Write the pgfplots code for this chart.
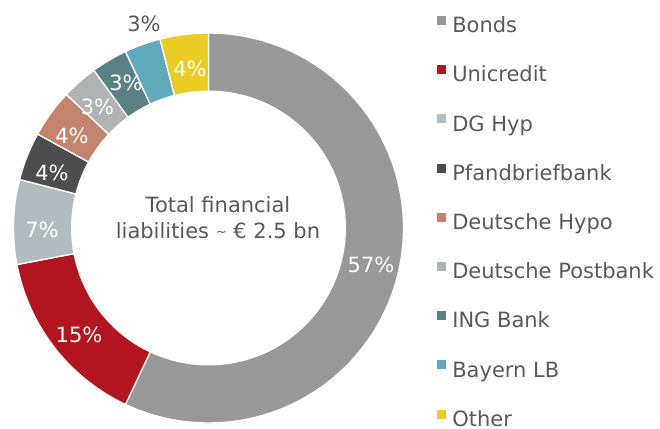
\documentclass[border=0pt]{standalone}
\usepackage{fontspec}
\setmainfont{DejaVu Sans}
\usepackage{pgfplots}
\usepackage{pgfplotstable}
\pgfplotsset{compat=1.18}

\definecolor{cBonds}{HTML}{989898}
\definecolor{cUni}{HTML}{B3151E}
\definecolor{cDG}{HTML}{B2BCC0}
\definecolor{cPfb}{HTML}{4D4D4D}
\definecolor{cDH}{HTML}{C4836C}
\definecolor{cPB}{HTML}{B0B3B4}
\definecolor{cING}{HTML}{5A8184}
\definecolor{cBay}{HTML}{60A9BD}
\definecolor{cOth}{HTML}{EBCC25}
\definecolor{txt}{HTML}{595959}

% share (%), colour, label position (x, y in chart units), label colour
\pgfplotstableread[col sep=comma]{
label,value,color,lx,ly,lc
Bonds,57,cBonds,371,162.7,white
Unicredit,15,cUni,79,93,white
DG Hyp,7,cDG,42,198.5,white
Pfandbriefbank,4,cPfb,52,255.5,white
Deutsche Hypo,4,cDH,72,292.5,white
Deutsche Postbank,3,cPB,97.5,321.3,white
ING Bank,3,cING,126,344.7,white
Bayern LB,3,cBay,144,404.2,txt
Other,4,cOth,190,358.8,white
}\shares

\begin{document}
\begin{tikzpicture}
\begin{axis}[
  scale only axis, width=660pt, height=428pt,
  xmin=0, xmax=660, ymin=0, ymax=428,
  hide axis, clip=false,
  legend cell align=left,
  legend image code/.code={\fill[#1,draw=none] (0pt,2.7pt) rectangle (9pt,11.7pt);},
  legend style={at={(axis cs:436.7,412)}, anchor=north west, draw=none, fill=none,
    inner sep=0pt, outer sep=0pt, row sep=27.5pt, column sep=6.6pt,
    font=\fontsize{21}{25}\selectfont, text=txt,
    nodes={inner sep=0pt, text height=15pt, text depth=5pt}},
]
\pgfplotstablegetrowsof{\shares}
\pgfmathtruncatemacro\nrows{\pgfplotsretval-1}
\gdef\cum{0}
\foreach \i in {0,...,\nrows}{
  \pgfplotstablegetelem{\i}{value}\of\shares \let\v\pgfplotsretval
  \pgfplotstablegetelem{\i}{color}\of\shares \let\c\pgfplotsretval
  \pgfplotstablegetelem{\i}{label}\of\shares \let\l\pgfplotsretval
  \pgfmathsetmacro\a{90-3.6*\cum}
  \pgfmathsetmacro\b{90-3.6*(\cum+\v)}
  \edef\temp{\noexpand\addplot[fill=\c, draw=white, line width=1.3pt, domain=\b:\a, samples=90]
     ({208.5+195*cos(x)},{200+195*sin(x)}) -- (axis cs:208.5,200) -- cycle;
     \noexpand\addlegendentry{\l}}
  \temp
  \pgfmathsetmacro\cumnew{\cum+\v}
  \xdef\cum{\cumnew}
}
\addplot[fill=white, draw=none, domain=0:360, samples=180, forget plot]
   ({208.5+137.5*cos(x)},{200+137.5*sin(x)}) -- cycle;
\foreach \i in {0,...,\nrows}{
  \pgfplotstablegetelem{\i}{value}\of\shares \let\v\pgfplotsretval
  \pgfplotstablegetelem{\i}{lx}\of\shares \let\lx\pgfplotsretval
  \pgfplotstablegetelem{\i}{ly}\of\shares \let\ly\pgfplotsretval
  \pgfplotstablegetelem{\i}{lc}\of\shares \let\lc\pgfplotsretval
  \edef\temp{\noexpand\node[text=\lc, font=\noexpand\fontsize{21}{25}\noexpand\selectfont, inner sep=0pt]
     at (axis cs:\lx,\ly) {\v\noexpand\%};}
  \temp
}
\node[anchor=base, text=txt, font=\fontsize{21}{25}\selectfont, inner sep=0pt]
  at (axis cs:218,215.3) {Total financial};
\node[anchor=base, text=txt, font=\fontsize{21}{25}\selectfont, inner sep=0pt]
  at (axis cs:218,189.7) {liabilities \raisebox{1.5pt}{\fontsize{13}{13}\selectfont\textasciitilde} € 2.5 bn};
\end{axis}
\pgfresetboundingbox
\useasboundingbox (current axis.south west) rectangle (current axis.north east);
\end{tikzpicture}
\end{document}
